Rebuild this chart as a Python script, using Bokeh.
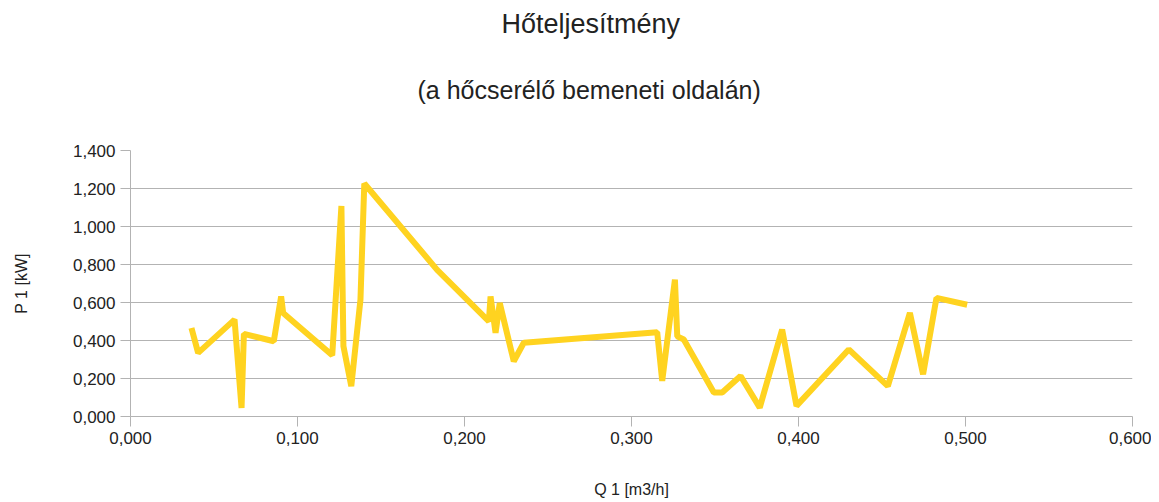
from bokeh.plotting import figure
from bokeh.models import Range1d, FixedTicker, CustomJSTickFormatter, Title
from bokeh.embed import file_html
from bokeh.resources import INLINE

title_text = "Hőteljesítmény"
subtitle_text = "(a hőcserélő bemeneti oldalán)"
x_label = "Q 1 [m3/h]"
y_label = "P 1 [kW]"

x_ticks = [0.0, 0.1, 0.2, 0.3, 0.4, 0.5, 0.6]
y_ticks = [0.0, 0.2, 0.4, 0.6, 0.8, 1.0, 1.2, 1.4]

q = [0.0365, 0.0405, 0.0623, 0.0665, 0.0679, 0.0858, 0.0902, 0.0914, 0.1208, 0.1263,
     0.1275, 0.1322, 0.1377, 0.1400, 0.1836, 0.2146, 0.2156, 0.2186, 0.2211, 0.2295,
     0.2355, 0.3154, 0.3184, 0.3260, 0.3274, 0.3313, 0.3493, 0.3543, 0.3653, 0.3768,
     0.3902, 0.3988, 0.4301, 0.4535, 0.4667, 0.4746, 0.4826, 0.5010]
p1 = [0.466, 0.335, 0.510, 0.045, 0.435, 0.396, 0.632, 0.545, 0.322, 1.108,
      0.370, 0.160, 0.615, 1.226, 0.772, 0.501, 0.632, 0.440, 0.597, 0.291,
      0.388, 0.443, 0.187, 0.720, 0.422, 0.405, 0.126, 0.126, 0.213, 0.047,
      0.458, 0.056, 0.353, 0.160, 0.545, 0.222, 0.624, 0.588]

FONT = "Liberation Sans"
TXT = "#222222"
GRID = "#b3b3b3"

p = figure(width=1151, height=500, output_backend="svg", toolbar_location=None,
           x_range=Range1d(0, 0.6), y_range=Range1d(0, 1.4),
           min_border_left=130, min_border_right=19, min_border_top=150, min_border_bottom=83,
           outline_line_color=None, background_fill_color="white", border_fill_color="white")

p.line(q, p1, line_color="#ffd320", line_width=6)

fmt = CustomJSTickFormatter(code="return tick.toFixed(3).replace('.', ',');")
for ax, ticks in ((p.xaxis[0], x_ticks), (p.yaxis[0], y_ticks)):
    ax.ticker = FixedTicker(ticks=ticks)
    ax.formatter = fmt
    ax.axis_line_color = GRID
    ax.major_tick_line_color = GRID
    ax.major_tick_in = 0
    ax.major_tick_out = 10
    ax.minor_tick_line_color = None
    ax.major_label_text_font = FONT
    ax.major_label_text_font_size = "17px"
    ax.major_label_text_color = TXT
    ax.axis_label_text_font = FONT
    ax.axis_label_text_font_size = "16px"
    ax.axis_label_text_font_style = "normal"
    ax.axis_label_text_color = TXT

p.xaxis.axis_label = x_label
p.yaxis.axis_label = y_label
p.xaxis.major_label_standoff = 5
p.yaxis.major_label_standoff = 5
p.xaxis.axis_label_standoff = 34
p.yaxis.axis_label_standoff = 40

p.xgrid.grid_line_color = None
p.ygrid.grid_line_color = GRID
p.ygrid.grid_line_width = 1

p.title.text = ""
p.add_layout(Title(text=subtitle_text, align="left", offset=287, standoff=93,
                   text_font=FONT, text_font_size="25px", text_font_style="normal",
                   text_color=TXT), "above")
p.add_layout(Title(text=title_text, align="left", offset=371, standoff=-22,
                   text_font=FONT, text_font_size="27px", text_font_style="normal",
                   text_color=TXT), "above")

open("out.html", "w").write(file_html(p, INLINE))
